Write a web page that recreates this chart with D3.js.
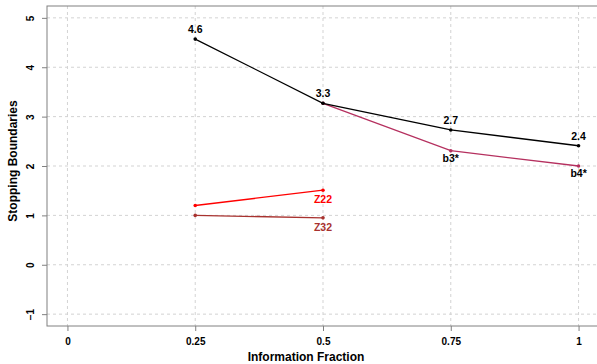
<!DOCTYPE html>
<html>
<head>
<meta charset="utf-8">
<script src="https://cdn.jsdelivr.net/npm/d3@7"></script>
<style>
  body { margin: 0; background: #fff; }
  text { font-family: "Liberation Sans", Arial, sans-serif; font-weight: bold; }
</style>
</head>
<body>
<div id="chart"></div>
<script>
var xTicks = [0, 0.25, 0.5, 0.75, 1];
var xTickLabels = ["0", "0.25", "0.5", "0.75", "1"];
var yTicks = [-1, 0, 1, 2, 3, 4, 5];

var upperFrac = [0.25, 0.5, 0.75, 1];
var upperVals = [4.57, 3.27, 2.73, 2.41];
var upperLabels = ["4.6", "3.3", "2.7", "2.4"];

var bFrac = [0.5, 0.75, 1];
var bVals = [3.27, 2.31, 2.0];
var bLabels = ["", "b3*", "b4*"];

var z22Frac = [0.25, 0.5];
var z22Vals = [1.2, 1.51];
var z32Frac = [0.25, 0.5];
var z32Vals = [1.0, 0.95];

function draw() {
    var w = 597, h = 364;
    var padL = 47, padR = 599, padT = 6, padB = 326;

    var svg = d3.select("#chart").append("svg")
        .attr("width", w).attr("height", h);

    var x = d3.scaleLinear().domain([-0.04, 1.04]).range([padL, padR]);
    var y = d3.scaleLinear().domain([-1.24, 5.24]).range([padB, padT]);

    // grid
    svg.append("g").selectAll("line").data(xTicks).enter().append("line")
        .attr("x1", d => x(d)).attr("x2", d => x(d))
        .attr("y1", padT).attr("y2", padB)
        .attr("stroke", "#d3d3d3").attr("stroke-dasharray", "3,3");
    svg.append("g").selectAll("line").data(yTicks).enter().append("line")
        .attr("x1", padL).attr("x2", padR)
        .attr("y1", d => y(d)).attr("y2", d => y(d))
        .attr("stroke", "#d3d3d3").attr("stroke-dasharray", "3,3");

    // box
    svg.append("rect")
        .attr("x", padL).attr("y", padT)
        .attr("width", padR - padL).attr("height", padB - padT)
        .attr("fill", "none").attr("stroke", "#808080");

    // axes
    var xAxis = d3.axisBottom(x).tickValues(xTicks)
        .tickFormat((d, i) => xTickLabels[i]).tickSize(5).tickPadding(7);
    var gx = svg.append("g").attr("transform", `translate(0,${padB})`).call(xAxis);
    gx.select(".domain").remove();
    gx.selectAll("line").attr("stroke", "#808080");
    gx.selectAll("text").attr("font-size", "10px").attr("fill", "#000");

    var yAxis = d3.axisLeft(y).tickValues(yTicks).tickSize(5).tickFormat(d3.format("d"));
    var gy = svg.append("g").attr("transform", `translate(${padL},0)`).call(yAxis);
    gy.select(".domain").remove();
    gy.selectAll("line").attr("stroke", "#808080");
    gy.selectAll("text")
        .attr("font-size", "10px").attr("fill", "#000")
        .attr("text-anchor", "middle").attr("dy", null)
        .attr("x", null)
        .attr("transform", "translate(-13,0) rotate(-90)");

    // axis titles
    svg.append("text")
        .attr("x", 306).attr("y", 361)
        .attr("text-anchor", "middle").attr("font-size", "12px")
        .text("Information Fraction");
    svg.append("text")
        .attr("transform", `translate(17,161) rotate(-90)`)
        .attr("text-anchor", "middle").attr("font-size", "12px")
        .text("Stopping Boundaries");

    var line = d3.line().x(d => x(d[0])).y(d => y(d[1]));

    function series(fr, vals, color) {
        var pts = fr.map((f, i) => [f, vals[i]]);
        svg.append("path").datum(pts).attr("d", line)
            .attr("fill", "none").attr("stroke", color).attr("stroke-width", 1.3);
        svg.append("g").selectAll("circle").data(pts).enter().append("circle")
            .attr("cx", d => x(d[0])).attr("cy", d => y(d[1]))
            .attr("r", 1.8).attr("fill", color);
        return pts;
    }

    var bPts = series(bFrac, bVals, "#b5305f");
    var upPts = series(upperFrac, upperVals, "#000");
    series(z22Frac, z22Vals, "#ff0000");
    series(z32Frac, z32Vals, "#a8322f");

    svg.append("g").selectAll("text").data(upPts).enter().append("text")
        .attr("x", d => x(d[0])).attr("y", d => y(d[1]) - 6)
        .attr("text-anchor", "middle").attr("font-size", "10.5px")
        .text((d, i) => upperLabels[i]);
    svg.append("g").selectAll("text").data(bPts).enter().append("text")
        .attr("x", d => x(d[0])).attr("y", d => y(d[1]) + 11)
        .attr("text-anchor", "middle").attr("font-size", "10.5px")
        .text((d, i) => bLabels[i]);
    svg.append("text")
        .attr("x", x(z22Frac[1])).attr("y", y(z22Vals[1]) + 13)
        .attr("text-anchor", "middle").attr("font-size", "10.5px")
        .attr("fill", "#ff0000").text("Z22");
    svg.append("text")
        .attr("x", x(z32Frac[1])).attr("y", y(z32Vals[1]) + 13)
        .attr("text-anchor", "middle").attr("font-size", "10.5px")
        .attr("fill", "#a8322f").text("Z32");
}

draw();
</script>
</body>
</html>
